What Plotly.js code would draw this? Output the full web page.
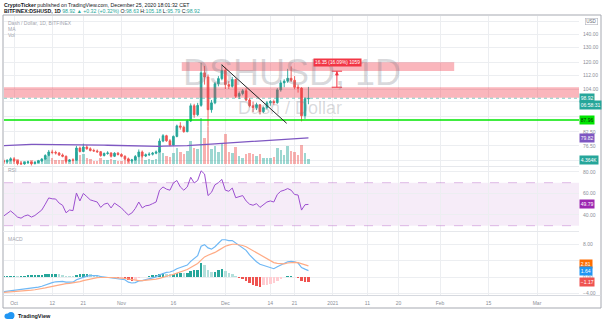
<!DOCTYPE html>
<html><head><meta charset="utf-8">
<script src="https://cdn.plot.ly/plotly-3.0.1.min.js"></script>
<style>html,body{margin:0;padding:0;background:#fff;}#chart{width:605px;height:322px;}</style>
</head><body><div id="chart"></div>
<script>
// ---------- DATA (daily, 2020-09-28 .. 2020-12-25) ----------
const firstDay = '2020-09-28';
const opens  = [70.6,70.2,70.8,71.3,70.6,69.6,69.4,69.9,70.1,69.5,69.9,70.5,71.2,72.6,74.0,73.8,73.6,72.8,72.3,70.4,70.9,70.8,75.6,74.2,76.0,75.3,74.6,74.4,74.1,72.6,73.4,73.6,72.3,73.5,73.0,72.3,71.3,70.5,70.9,72.2,74.0,72.4,72.9,73.1,73.5,74.0,78.5,80.8,78.6,76.8,80.5,85.2,84.6,82.6,87.5,95.0,90.5,95.2,113.5,111.0,93.0,96.5,107.0,110.0,115.0,106.5,105.5,109.5,100.0,101.5,103.0,98.0,95.0,94.0,95.5,92.0,94.0,96.5,97.2,96.6,103.5,107.5,108.5,110.2,109.0,105.0,104.5,90.0,98.63];
const highs  = [71.4,71.1,71.9,72.0,70.9,70.2,70.3,70.6,70.3,70.2,70.9,71.6,73.1,74.8,74.9,74.5,74.0,73.4,72.6,71.2,71.5,76.5,76.2,77.4,76.8,75.9,75.3,75.0,74.4,73.8,74.3,73.9,73.9,74.0,73.5,72.7,71.8,71.3,72.8,75.0,74.6,73.4,73.9,74.0,74.6,79.6,81.5,81.2,79.3,80.9,85.8,86.9,85.3,88.1,96.2,96.0,96.5,119.8,117.8,112.5,98.0,108.0,111.5,119.0,116.8,108.5,111.0,110.0,102.6,104.0,104.5,99.0,97.2,96.6,95.9,94.6,97.5,98.0,98.2,104.5,109.0,109.6,116.0,117.5,111.5,106.5,105.0,99.5,105.18];
const lows   = [69.8,69.7,70.3,70.1,68.9,69.0,69.1,69.5,68.8,69.2,69.6,70.2,71.0,72.3,73.1,73.0,72.4,71.9,69.8,70.1,70.4,70.6,73.8,73.9,74.9,74.2,74.1,73.6,72.1,72.2,72.9,71.8,72.0,72.6,71.9,70.9,69.9,69.8,70.6,71.9,71.8,72.0,72.4,72.6,73.1,73.7,78.0,78.2,76.3,76.5,80.1,83.5,82.1,82.3,87.0,89.0,89.8,94.5,106.5,84.8,91.5,95.8,105.5,109.0,104.0,104.0,104.8,99.0,98.5,100.5,97.4,94.2,91.8,92.8,90.6,91.4,93.2,95.0,95.4,96.0,102.5,105.0,107.5,108.0,103.8,102.0,87.3,88.5,95.79];
const closes = [70.2,70.8,71.3,70.6,69.6,69.4,69.9,70.1,69.5,69.9,70.5,71.2,72.6,74.0,73.8,73.6,72.8,72.3,70.4,70.9,70.8,75.6,74.2,76.0,75.3,74.6,74.4,74.1,72.6,73.4,73.6,72.3,73.5,73.0,72.3,71.3,70.5,70.9,72.2,74.0,72.4,72.9,73.1,73.5,74.0,78.5,80.8,78.6,76.8,80.5,85.2,84.6,82.6,87.5,95.0,90.5,95.2,113.5,111.0,93.0,96.5,107.0,110.0,115.0,106.5,105.5,109.5,100.0,101.5,103.0,98.0,95.0,94.0,95.5,92.0,94.0,96.5,97.2,96.6,103.5,107.5,108.5,110.2,109.0,105.0,104.5,90.0,98.6,98.92];
const volumes = [3500,2800,3200,4100,3900,2300,2100,2600,3400,2700,3000,3600,5200,6800,4800,3300,3100,2900,5600,2400,2200,9800,7600,8400,5200,3900,2700,2600,4800,3600,3300,4100,3200,2400,2600,3900,4300,3600,5400,7900,6200,3400,3800,3500,4200,11800,9200,6300,5400,8900,12600,9400,7800,10800,18500,13200,12400,36500,21000,29500,12000,14500,9800,16500,24000,9600,8800,13500,6400,5200,7900,9200,8400,6600,8100,4600,5200,4800,5400,12800,11200,7600,14500,10600,9800,7200,15600,8800,4364];
const maValues = [76.6,76.7,76.8,76.9,77.0,77.05,77.1,77.1,77.1,77.1,77.1,77.1,77.1,77.1,77.05,77.0,77.0,77.0,76.95,76.95,76.9,76.9,76.9,76.9,76.9,76.9,76.85,76.85,76.8,76.8,76.75,76.7,76.7,76.65,76.6,76.55,76.5,76.45,76.4,76.4,76.35,76.3,76.3,76.3,76.3,76.3,76.35,76.35,76.35,76.4,76.45,76.5,76.55,76.6,76.7,76.75,76.85,77.0,77.1,77.2,77.25,77.35,77.45,77.55,77.65,77.75,77.85,77.95,78.05,78.15,78.25,78.35,78.45,78.55,78.65,78.75,78.85,78.95,79.05,79.15,79.25,79.35,79.45,79.55,79.62,79.68,79.73,79.78,79.82];
const rsiValues = [39,41.5,43.7,41,38,37,39,40,38,39.5,41.8,44.6,50,55.8,55,54.8,51,49,42,44.6,44,60.4,53,60,57,54,53,52,47,50,51,46.5,51,49,46.5,43,40,41.8,46,52,46.5,48.5,49,50.5,52,63,66,64,63,69.7,72,66,63,66,75,69.7,72,81,78,58,61,68,70,73,63,62,65,56,57,58,53,50,49,50.5,47,49.5,52,53,52,59,62,63,64.5,63,59,58.5,44.5,49.5,49.79];
const macdValues = [-3.5,-3.4,-3.2,-3.1,-3.1,-3.0,-2.9,-2.8,-2.7,-2.6,-2.4,-2.2,-1.9,-1.5,-1.3,-1.1,-1.0,-1.0,-1.2,-1.2,-1.2,-0.6,-0.3,0.1,0.3,0.4,0.4,0.4,0.2,0.1,0.0,-0.2,-0.2,-0.3,-0.4,-0.6,-1.2,-1.4,-1.3,-0.9,-0.8,-0.6,-0.4,-0.1,0.1,0.6,1.0,1.2,1.3,1.6,2.1,2.4,2.6,3.0,3.9,4.6,5.3,7.6,8.0,7.2,6.9,7.5,8.3,9.2,9.2,9.0,9.0,8.4,7.9,7.4,6.6,5.5,4.6,3.8,3.2,2.9,2.7,2.4,2.1,2.6,3.0,3.4,3.8,3.9,3.8,3.5,2.4,2.0,1.64];
const signalValues = [-3.7,-3.65,-3.6,-3.5,-3.45,-3.4,-3.3,-3.25,-3.15,-3.05,-2.95,-2.8,-2.6,-2.4,-2.2,-2.0,-1.8,-1.65,-1.55,-1.5,-1.4,-1.25,-1.05,-0.8,-0.6,-0.4,-0.25,-0.1,-0.05,0.0,0.0,-0.05,-0.1,-0.1,-0.2,-0.3,-0.45,-0.6,-0.75,-0.8,-0.8,-0.75,-0.7,-0.55,-0.45,-0.25,0.05,0.3,0.5,0.7,1.0,1.3,1.6,1.9,2.4,2.9,3.4,4.2,5.0,5.4,5.7,6.1,6.6,7.2,7.6,7.9,8.1,8.1,8.0,7.8,7.5,7.0,6.5,6.0,5.5,4.9,4.5,4.0,3.6,3.4,3.3,3.3,3.5,3.6,3.65,3.6,3.35,3.1,2.81];
const histValues = [0.2,0.25,0.4,0.4,0.35,0.4,0.4,0.45,0.45,0.45,0.55,0.6,0.7,0.9,0.9,0.9,0.8,0.65,0.35,0.3,0.2,0.65,0.75,0.9,0.9,0.8,0.65,0.5,0.25,0.1,0.0,-0.15,-0.1,-0.2,-0.2,-0.3,-0.75,-0.8,-0.55,-0.1,0.0,0.15,0.3,0.45,0.55,0.85,0.95,0.9,0.8,0.9,1.1,1.1,1.0,1.1,1.5,1.7,1.9,3.4,3.0,1.8,1.2,1.4,1.7,2.0,1.6,1.1,0.9,0.3,-0.1,-0.4,-0.9,-1.5,-1.9,-2.2,-2.3,-2.0,-1.8,-1.6,-1.5,-0.8,-0.3,0.1,0.3,0.3,0.15,-0.1,-0.95,-1.1,-1.17];

// time-axis labels
const xTickDates  = ['2020-10-01','2020-10-12','2020-10-21','2020-11-01','2020-11-16','2020-12-01','2020-12-14','2020-12-21','2021-01-01','2021-01-11','2021-01-20','2021-02-01','2021-02-15','2021-03-01'];
const xTickLabels = ['Oct','12','21','Nov','16','Dec','14','21','2021','11','20','Feb','15','Mar'];
// price scale (labels hidden behind the value tags are left blank)
const priceTicks  = [70.5,76.5,82.5,89.5,97,104,112,120,130,140,150];
const priceLabels = ['','76.50','82.50','','','104.00','112.00','120.00','130.00','140.00',''];
const rsiTicks = [40,60,80], rsiLabels = ['40.00','60.00','80.00'];
const macdTicks = [-4,0,4,8], macdLabels = ['\u22124.00','0.00','','8.00'];
// drawings
const zoneTop  = {from:'2020-11-18 10:00', to:'2021-02-05 02:00', low:114.6, high:120.1};
const zoneMid  = {low:99.2, high:105.0};
const supportLevel = 87.96;
const trendLine = {x0:'2020-11-30 00:00', y0:118.4, x1:'2020-12-18 17:00', y1:86.4};
const measure = {x:'2021-01-02 05:00', xl:'2020-12-31 17:00', xr:'2021-01-03 17:00', low:105.0, high:114.5, text:'16.35 (16.09%) 1059'};
const lastPrice = 98.92;

// ---------- build ----------
const dates = [];
(function(){const d0=Date.parse(firstDay+'T00:00:00Z');for(let i=0;i<closes.length;i++){dates.push(new Date(d0+i*86400000).toISOString().slice(0,10));}})();

const L=4,R=579,T=16,B=295;
const px = x => (x-L)/(R-L);
const py = y => (B-y)/(B-T);
const FONT = 'Liberation Sans, Arial, sans-serif';
const TEAL='#26a69a', RED='#ef5350';

const volColors = closes.map((c,i)=> c>=opens[i] ? 'rgba(38,166,154,0.45)' : 'rgba(239,83,80,0.45)');
const histColors = histValues.map((h,i)=>{
  const prev = i>0 ? histValues[i-1] : h;
  if(h>=0) return h>=prev ? '#26a69a' : '#b2dfdb';
  return h<prev ? '#ef5350' : '#ffcdd2';
});

const traces = [
  {type:'bar', x:dates, y:volumes, xaxis:'x', yaxis:'y', marker:{color:volColors, line:{width:0}}, width:86400000*0.72, hoverinfo:'skip'},
  {type:'scatter', mode:'lines', x:dates, y:maValues, xaxis:'x', yaxis:'y2', line:{color:'#7e57c2', width:1.3}, hoverinfo:'skip'},
  {type:'candlestick', x:dates, open:opens, high:highs, low:lows, close:closes, xaxis:'x', yaxis:'y2',
    increasing:{line:{color:TEAL,width:0.9}, fillcolor:TEAL}, decreasing:{line:{color:RED,width:0.9}, fillcolor:RED},
    whiskerwidth:0, hoverinfo:'skip'},
  {type:'scatter', mode:'lines', x:dates, y:rsiValues, xaxis:'x', yaxis:'y3', line:{color:'#9c4fd0', width:1}, hoverinfo:'skip'},
  {type:'bar', x:dates, y:histValues, xaxis:'x', yaxis:'y4', marker:{color:histColors, line:{width:0}}, width:86400000*0.72, hoverinfo:'skip'},
  {type:'scatter', mode:'lines', x:dates, y:macdValues, xaxis:'x', yaxis:'y4', line:{color:'#6fb8f5', width:1.2}, hoverinfo:'skip'},
  {type:'scatter', mode:'lines', x:dates, y:signalValues, xaxis:'x', yaxis:'y4', line:{color:'#ffab85', width:1.2}, hoverinfo:'skip'}
];

const grid = '#eceef1', tickCol = '#8b8e97';
const yCommon = {side:'right', anchor:'x', ticks:'', showline:false, zeroline:false, gridcolor:grid, gridwidth:1,
  tickfont:{size:5, color:tickCol, family:FONT}, ticklabelstandoff:3, fixedrange:true};

const layout = {
  width:605, height:322, margin:{l:L, r:605-R, t:T, b:322-B}, paper_bgcolor:'#fff', plot_bgcolor:'#fff',
  showlegend:false, font:{family:FONT}, bargap:0,
  xaxis:{type:'date', anchor:'y4', range:['2020-09-28 02:00','2021-03-13 03:00'], tickvals:xTickDates, ticktext:xTickLabels,
    ticks:'', showline:false, zeroline:false, showgrid:true, gridcolor:grid, tickfont:{size:5, color:tickCol, family:FONT},
    ticklabelstandoff:4, rangeslider:{visible:false}, fixedrange:true},
  yaxis:{domain:[py(166),1], range:[-1600,118400], visible:false, fixedrange:true},
  yaxis2:Object.assign({}, yCommon, {overlaying:'y', type:'log', range:[Math.log10(68.6), Math.log10(154.3)], tickvals:priceTicks, ticktext:priceLabels}),
  yaxis3:Object.assign({}, yCommon, {domain:[py(231),py(167)], range:[25.07,84.55], tickvals:rsiTicks, ticktext:rsiLabels}),
  yaxis4:Object.assign({}, yCommon, {domain:[0,py(232)], range:[-4.34,11.1], tickvals:macdTicks, ticktext:macdLabels}),
  shapes:[
    // frame & separators
    {type:'rect', xref:'paper', yref:'paper', x0:px(3), x1:px(601), y0:py(308), y1:py(15), line:{color:'#a6a9b1', width:1}},
    {type:'line', xref:'paper', yref:'paper', x0:px(3), x1:px(601), y0:py(295.5), y1:py(295.5), line:{color:'#d6d9df', width:1}},
    {type:'line', xref:'paper', yref:'paper', x0:px(3), x1:1, y0:py(166.5), y1:py(166.5), line:{color:'#e6e8ec', width:1}},
    {type:'line', xref:'paper', yref:'paper', x0:px(3), x1:1, y0:py(231.5), y1:py(231.5), line:{color:'#e6e8ec', width:1}},
    // RSI band
    {type:'rect', xref:'paper', yref:'y3', x0:0, x1:1, y0:30, y1:70, fillcolor:'rgba(156,39,176,0.09)', line:{width:0}, layer:'below'},
    {type:'line', xref:'paper', yref:'y3', x0:0, x1:1, y0:70, y1:70, line:{color:'rgba(156,39,176,0.3)', width:1, dash:'dash'}},
    {type:'line', xref:'paper', yref:'y3', x0:0, x1:1, y0:30, y1:30, line:{color:'rgba(156,39,176,0.3)', width:1, dash:'dash'}},
    // price drawings
    {type:'rect', xref:'paper', yref:'y2', x0:0, x1:1, y0:zoneMid.low, y1:zoneMid.high, fillcolor:'rgba(242,54,69,0.36)', line:{width:0}},
    {type:'rect', xref:'x', yref:'y2', x0:zoneTop.from, x1:zoneTop.to, y0:zoneTop.low, y1:zoneTop.high, fillcolor:'rgba(242,54,69,0.36)', line:{width:0}},
    {type:'line', xref:'paper', yref:'y2', x0:0, x1:1, y0:lastPrice, y1:lastPrice, line:{color:'rgba(38,166,154,0.55)', width:1, dash:'dot'}},
    {type:'line', xref:'paper', yref:'y2', x0:0, x1:1, y0:supportLevel, y1:supportLevel, line:{color:'#00e600', width:1.6}},
    {type:'line', xref:'x', yref:'y2', x0:trendLine.x0, y0:trendLine.y0, x1:trendLine.x1, y1:trendLine.y1, line:{color:'#222', width:1}},
    {type:'line', xref:'x', yref:'y2', x0:measure.x, x1:measure.x, y0:measure.low, y1:measure.high, line:{color:'#f23645', width:1}},
    {type:'line', xref:'x', yref:'y2', x0:measure.xl, x1:measure.xr, y0:measure.low, y1:measure.low, line:{color:'#f23645', width:1}},
    {type:'line', xref:'x', yref:'y2', x0:measure.xl, x1:measure.xr, y0:measure.high, y1:measure.high, line:{color:'#f23645', width:1}},
    // TradingView logo (cloud)
    {type:'circle', xref:'paper', yref:'paper', x0:px(4.5), x1:px(10), y0:py(319), y1:py(313.5), fillcolor:'#2196f3', line:{width:0}},
    {type:'circle', xref:'paper', yref:'paper', x0:px(7.5), x1:px(14.5), y0:py(319), y1:py(312), fillcolor:'#2196f3', line:{width:0}},
    {type:'rect', xref:'paper', yref:'paper', x0:px(7), x1:px(13), y0:py(319), y1:py(316), fillcolor:'#2196f3', line:{width:0}}
  ],
  annotations:[]
};

const A = layout.annotations;
function txt(x,y,text,opt){A.push(Object.assign({xref:'paper', yref:'paper', x:px(x), y:py(y), text:text, showarrow:false, xanchor:'left', yanchor:'middle', font:{size:5, color:'#131722', family:FONT}}, opt||{}));}
// header
txt(2,4.5,'<b>CryptoTicker</b> published on TradingView.com, December 25, 2020 18:01:32 CET',{font:{size:5.2,color:'#131722',family:FONT}});
const g = s=>'<span style="color:'+TEAL+'">'+s+'</span>';
txt(2,10.8,'<b>BITFINEX:DSHUSD, 1D</b> '+g('98.92 \u25B2 +0.32 (+0.32%)')+' O:'+g('98.63')+' H:'+g('105.18')+' L:'+g('95.79')+' C:'+g('98.92'),{font:{size:5.2,color:'#131722',family:FONT}});
// pane legends
txt(6,22.5,'Dash / Dollar, 1D, BITFINEX',{font:{size:5,color:'#a3a6af',family:FONT}});
txt(6,28.7,'MA',{font:{size:5,color:'#a3a6af',family:FONT}});
txt(6,34.8,'Vol',{font:{size:5,color:'#a3a6af',family:FONT}});
txt(6,170,'RSI',{font:{size:5,color:'#a3a6af',family:FONT}});
txt(6,238.5,'MACD',{font:{size:5,color:'#a3a6af',family:FONT}});
// watermark
txt(292,72,'DSHUSD, 1D',{xanchor:'center', font:{size:36,color:'rgba(120,123,134,0.28)',family:FONT}});
txt(290,108,'Dash / Dollar',{xanchor:'center', font:{size:18,color:'rgba(120,123,134,0.28)',family:FONT}});
// measure label & arrow head
txt(313,62.3,measure.text,{bgcolor:'#f23645', borderpad:1, font:{size:4.8,color:'#fff',family:FONT}});
A.push({xref:'x', yref:'y2', x:measure.x, y:Math.log10(measure.high), ax:0, ay:6, showarrow:true, arrowhead:2, arrowsize:0.8, arrowwidth:1, arrowcolor:'#f23645', text:''});
// price-scale tags
function tag(y,text,bg,fg,yref,dx){A.push({xref:'paper', yref:yref||'paper', x:1, y:y, xanchor:'left', yanchor:'middle', xshift:dx||0, text:text, showarrow:false, bgcolor:bg, borderpad:0.8, font:{size:5,color:fg||'#fff',family:FONT}});}
tag(Math.log10(lastPrice),'98.92',TEAL,'#fff','y2');
tag(py(104.8),'06:58:31',TEAL);
tag(Math.log10(supportLevel),'87.96','#00e600','#0a2a0a','y2');
tag(Math.log10(79.82),'79.82','#7e57c2','#fff','y2');
tag(py(160),'4.364K',TEAL);
tag(49.79,'49.79','#9c27b0','#fff','y3');
tag(py(263.5),'2.81','#ff6d00');
tag(py(270.5),'1.64','#2196f3');
tag(-1.17,'\u22121.17',RED,'#fff','y4');
A.push({xref:'paper', yref:'paper', x:px(591), y:py(22), xanchor:'center', yanchor:'middle', text:'USD', showarrow:false, bgcolor:'#fff', bordercolor:'#b2b5be', borderwidth:0.6, borderpad:0.6, font:{size:4.6,color:'#6a6d78',family:FONT}});
// footer
txt(15.5,316,'<b>TradingView</b>',{font:{size:5.5,color:'#131722',family:FONT}});

Plotly.newPlot('chart', traces, layout, {displayModeBar:false, staticPlot:true});
</script>
</body></html>
